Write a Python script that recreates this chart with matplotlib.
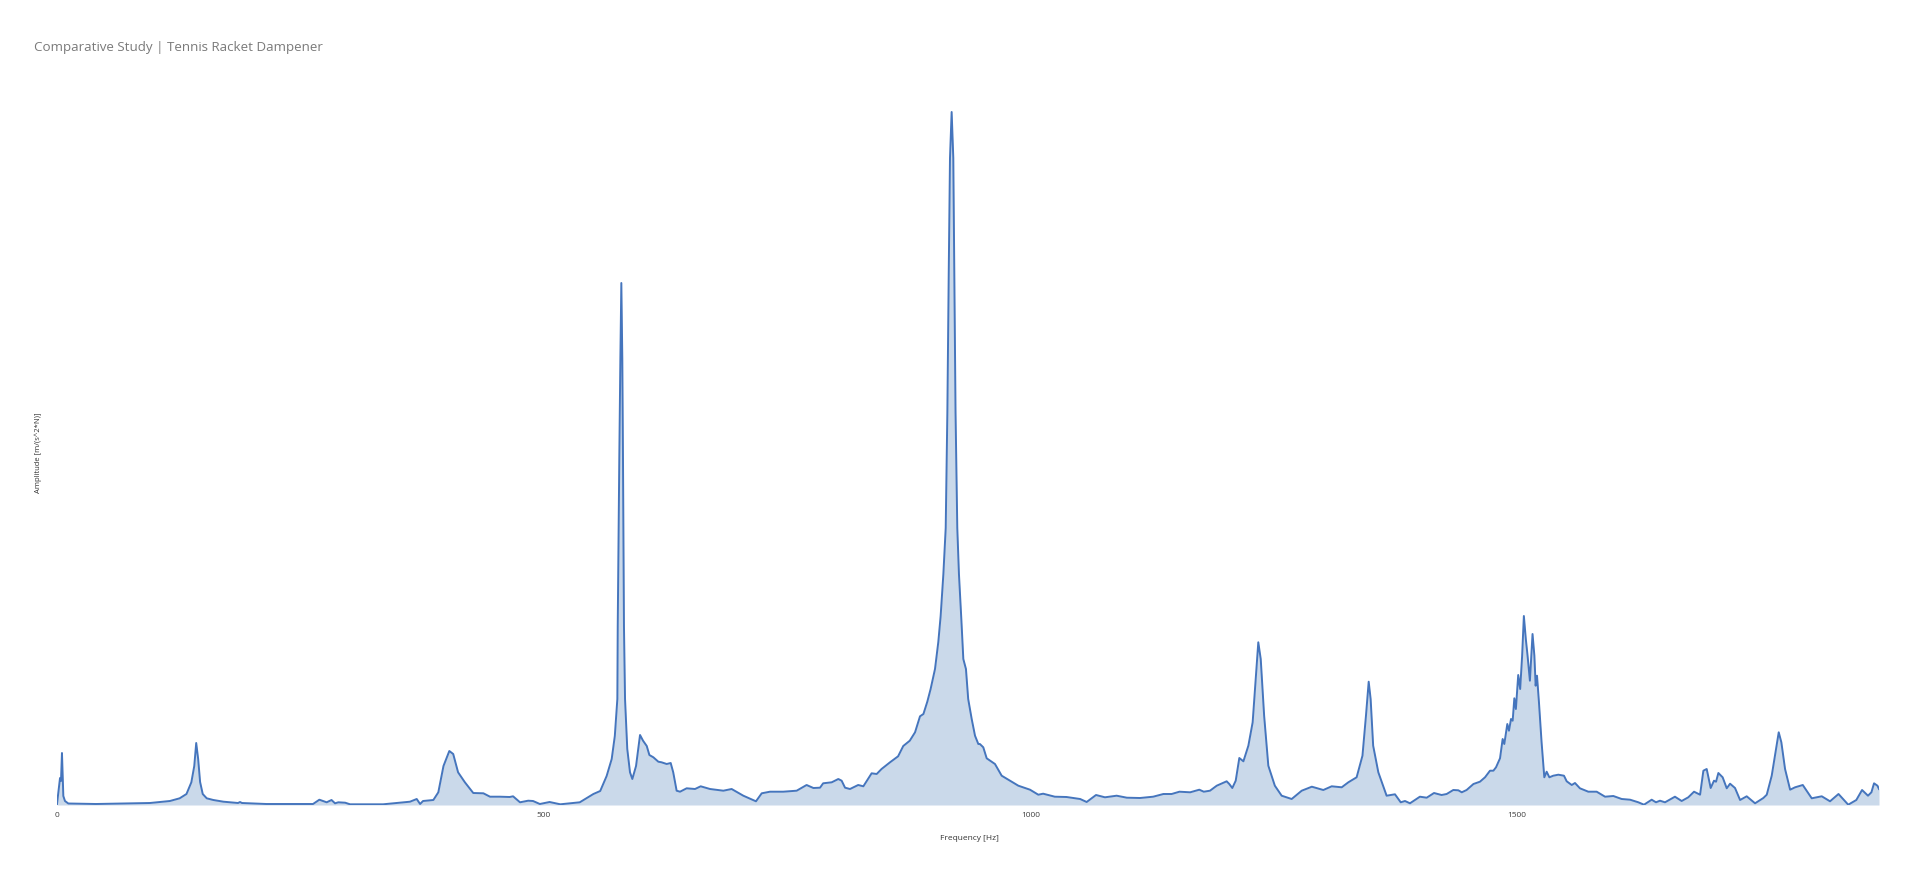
import matplotlib.pyplot as plt

# Frequency response (amplitude in arbitrary units)
freq = [0, 3.1, 4.1, 5.1, 6.5, 8.2, 11.6, 40, 95.5, 116, 126, 133, 138, 141, 143, 145, 147,
        149.7, 153.8, 160.6, 171, 186, 188, 190, 215, 263, 269.5, 277, 282, 285.6, 289, 296,
        301, 335, 362.6, 369.5, 373, 376, 386.6, 391.7, 397, 403, 407, 412, 419, 427.6, 438,
        444.8, 455, 465, 468.5, 475.6, 484, 489, 496, 506, 517, 537, 551, 558, 564.6, 569.8,
        573, 575.6, 576, 577.6, 578.7, 579.7, 580.7, 581.4, 582.4, 583.5, 585.8, 588.6, 591,
        594.8, 598.9, 602, 605.8, 608.5, 612.6, 617.7, 621, 626.3, 630.4, 633, 636.5, 640,
        646.8, 655.4, 661.2, 670.8, 684.5, 693, 705, 718, 723.9, 732.4, 746, 759.8, 770, 777,
        783.8, 787, 795.8, 802.6, 806, 809.5, 814.6, 823, 828.3, 836.8, 842, 847, 855.7, 864,
        869.3, 876, 881.4, 886.5, 890, 894, 897.4, 901.9, 905.3, 907.7, 910.5, 912.9, 914.6,
        916, 917.3, 919, 920.7, 921.7, 923, 924.8, 926.5, 929, 931, 933.7, 936, 939.6, 943,
        946.4, 948, 951.5, 955, 960, 963.5, 970.4, 979, 987.5, 999.5, 1008, 1013, 1025, 1037,
        1051, 1057.7, 1067.3, 1076.5, 1088.5, 1099, 1112.5, 1126, 1136.5, 1145, 1153, 1164,
        1173.4, 1178, 1184.4, 1191.3, 1201.5, 1204.2, 1207.3, 1210.8, 1214.5, 1218.7, 1223.8,
        1228.2, 1231.6, 1234, 1236.5, 1240, 1244.3, 1251, 1258, 1268.3, 1278.6, 1289, 1300.8,
        1309.4, 1319.7, 1326.5, 1335, 1341, 1344.6, 1347.4, 1349.4, 1352, 1357.3, 1365.8,
        1374.4, 1380.3, 1384.7, 1389.8, 1400, 1407, 1414.5, 1422.3, 1427.5, 1434.3, 1439.5,
        1443, 1448, 1455, 1461.7, 1466.9, 1472, 1475.5, 1478.2, 1482.3, 1485, 1486.7, 1489.8,
        1491.5, 1493.6, 1495.3, 1497, 1498.6, 1501, 1503, 1505, 1506.8, 1508.8, 1510.6, 1513,
        1515.7, 1517.6, 1518.9, 1520.3, 1522.3, 1525, 1527.8, 1530.2, 1533, 1537, 1542.2, 1548,
        1550.8, 1556, 1559.3, 1564.4, 1573, 1581.6, 1590.2, 1598.7, 1607.3, 1615.9, 1624.4,
        1630.2, 1638.1, 1642.5, 1646.6, 1651.8, 1662, 1668.9, 1675.7, 1681.6, 1687.8, 1691.2,
        1694.6, 1698.7, 1702.1, 1704.2, 1706.6, 1711, 1715.2, 1718.6, 1723.7, 1728.9, 1735.7,
        1744.3, 1752.8, 1756.3, 1761.4, 1765.8, 1768.6, 1771.3, 1775.1, 1780.3, 1785.4, 1793.3,
        1802.5, 1812.8, 1821.3, 1830, 1840, 1848.3, 1854.2, 1860.3, 1863.8, 1866.5, 1870, 1871.6]

amplitude = [1, 27, 24, 52, 9, 4, 1.5, 1, 2, 4, 6.7, 11, 22.7, 39, 62, 46, 23,
             11, 6.7, 5, 3.3, 2, 3, 2, 1, 1, 5.3, 2.7, 5, 1.7, 2.7, 2.3,
             0.7, 0.7, 3.3, 6, 1, 4, 5, 12.7, 39, 54, 51, 32.7, 22.7, 12, 11.7,
             8.3, 8.3, 8, 8.7, 2.7, 4.3, 4, 1, 3, 0.7, 2.7, 11, 14, 29, 46,
             69, 106, 179, 346, 446, 522, 446, 346, 179, 106, 56, 32.7, 26,
             39, 70, 64.3, 59, 50, 47.7, 43.3, 42.7, 41, 42, 32.7, 14.3, 13.3,
             16.7, 16, 18.7, 16, 14.3, 16, 9.3, 3.7, 11.7, 13.3, 13.3, 14.3, 20, 17,
             17.3, 21.7, 22.7, 26, 24.3, 17.3, 16, 20, 18.7, 31.7, 31, 36, 42.7, 48.7,
             59, 64.3, 72.7, 88.7, 91, 103.3, 116, 136, 163, 189, 231, 277, 393,
             531, 647, 693, 647, 531, 393, 277, 231, 185, 146, 136, 106, 86, 69.3,
             61, 61, 57.7, 46.7, 43.3, 41, 29.3, 24.3, 19.3, 15.3, 10.3, 11.3, 8.3, 8,
             6, 3, 10, 7.7, 9.3, 7.3, 7, 8.3, 11, 11, 13.3, 12.7,
             15.3, 13.3, 14.3, 19.3, 23.7, 21, 17, 24.3, 47, 43.7, 59.3,
             82.7, 129.3, 162.7, 146, 89.3, 39.3, 19.3, 9.3, 6, 14.3, 18.3, 15,
             18.7, 17.7, 22.7, 27.7, 49.3, 89.3, 123.3, 106, 59.3, 32.7, 9.3,
             10.7, 2.7, 4, 1.7, 8.3, 7.3, 12, 10, 11, 15, 14.7,
             12.7, 15, 21, 23.3, 27.7, 34.3, 34.3, 37.7, 46.7, 66, 61, 81,
             74.3, 86, 84.3, 106.7, 96, 130, 116, 149, 189, 166, 149.3, 124.3,
             171, 149.3, 119.3, 129.3, 102.7, 62.7, 27.7, 33.3, 27.7, 29.3, 30.3, 29.3,
             23.7, 20, 22, 16.7, 13.3, 13.3, 8.3, 9, 6, 5.3, 2.7,
             0.3, 5.3, 2.7, 4.3, 2.7, 8.3, 4, 7.7, 13.3, 10.3, 34.3,
             36, 17, 24.3, 23.3, 32, 27.7, 16.7, 21.3, 17, 5, 8.7,
             1.7, 7, 10.3, 29.3, 56, 72.7, 62.7, 36, 15.3, 17.7, 20,
             6.7, 8.7, 3.7, 11, 0.3, 5, 15, 9.3, 12.7, 21.7, 19.3, 16]

xticks = [0, 500, 1000, 1500]

line_color = '#4575BD'
fill_color = '#CAD9EA'

fig = plt.figure(figsize=(19.2, 8.79), dpi=100)
fig.patch.set_facecolor('white')

ax = fig.add_axes([57 / 1920, 73 / 879, 1822 / 1920, 720 / 879])
ax.fill_between(freq, amplitude, 0, color=fill_color, linewidth=0)
ax.plot(freq, amplitude, color=line_color, linewidth=1.4)

ax.set_xlim(0, freq[-1])
ax.set_ylim(0, 720)
ax.set_xticks(xticks)
ax.set_xticklabels([str(t) for t in xticks], fontsize=6, color='#404040', family='Open Sans')
ax.tick_params(axis='x', length=0, pad=4)
ax.set_yticks([])
for s in ax.spines.values():
    s.set_visible(False)

# titles and axis labels
fig.text(34 / 1920, 1 - 48 / 879, 'Comparative Study | Tennis Racket Dampener',
         fontsize=9.6, color='#7a7a7a', family='Open Sans', va='center', ha='left')
fig.text(969 / 1920, 1 - 839 / 879, 'Frequency [Hz]', fontsize=6, color='#333333',
         family='Open Sans', ha='center', va='center')
fig.text(38 / 1920, 1 - 453 / 879, 'Amplitude [m/(s^2*N)]', fontsize=5.5, color='#333333',
         family='Open Sans', rotation=90, ha='center', va='center')

fig.savefig('out.png', dpi=100, facecolor='white')
